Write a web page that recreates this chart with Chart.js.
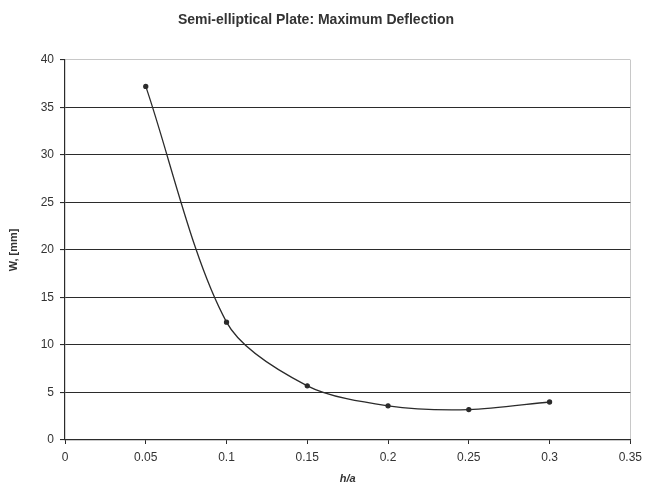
<!DOCTYPE html>
<html>
<head>
<meta charset="utf-8">
<script src="https://cdn.jsdelivr.net/npm/chart.js@4"></script>
<style>
  html, body { margin: 0; padding: 0; background: #fff; }
  #wrap { width: 648px; height: 488px; }
</style>
</head>
<body>
<div id="wrap"><canvas id="myChart"></canvas></div>
<script>
// h/a ratio vs max deflection W [mm]
const ratios = [0.05, 0.1, 0.15, 0.2, 0.25, 0.3];
const deflection = [37.2, 12.4, 5.7, 3.6, 3.2, 4.0];
const xTicks = [0, 0.05, 0.1, 0.15, 0.2, 0.25, 0.3, 0.35];
const yTicks = [0, 5, 10, 15, 20, 25, 30, 35, 40];

const ink = '#2b2b2b';
const font = 'Liberation Sans, Arial, sans-serif';

const ctx = document.getElementById('myChart');
let chart = new Chart(ctx, {
  type: 'scatter',
  data: {
    datasets: [{
      label: 'W',
      data: ratios.map((r, i) => ({ x: r, y: deflection[i] })),
      showLine: true,
      tension: 0.3,
      borderColor: ink,
      borderWidth: 1.3,
      pointRadius: 2,
      pointBackgroundColor: ink,
      pointBorderColor: ink
    }]
  },
  options: {
    responsive: true,
    maintainAspectRatio: false,
    animation: false,
    layout: { padding: { left: 0, right: 16, top: 0, bottom: 0 } },
    plugins: {
      legend: { display: false },
      tooltip: { enabled: false },
      title: {
        display: true,
        text: 'Semi-elliptical Plate: Maximum Deflection',
        color: '#333',
        font: { family: font, size: 14, weight: 'bold' },
        padding: { top: 12, bottom: 31 }
      }
    },
    scales: {
      x: {
        type: 'linear',
        min: 0,
        max: 0.35,
        afterBuildTicks: (s) => { s.ticks = xTicks.map(v => ({ value: v })); },
        afterFit: (s) => { s.height = 48; },
        grid: {
          drawOnChartArea: true,
          color: (c) => (c.tick && c.tick.value === 0.35) ? '#c8c8c8' : 'rgba(0,0,0,0)',
          tickColor: ink,
          tickLength: 4
        },
        border: { color: ink, width: 1.2 },
        ticks: {
          color: '#333',
          font: { family: font, size: 12 },
          padding: 6,
          maxRotation: 0,
          callback: (v) => String(v)
        },
        title: {
          display: true,
          text: 'h/a',
          color: '#333',
          font: { family: font, size: 11, weight: 'bold', style: 'italic' },
          padding: { top: 0, bottom: 2 }
        }
      },
      y: {
        min: 0,
        max: 40,
        afterBuildTicks: (s) => { s.ticks = yTicks.map(v => ({ value: v })); },
        afterFit: (s) => { s.width = 65; },
        grid: {
          color: (c) => (c.tick && c.tick.value === 40) ? '#c8c8c8' : ink,
          lineWidth: 1.1,
          tickColor: ink,
          tickLength: 5
        },
        border: { color: ink, width: 1.2 },
        ticks: {
          color: '#333',
          font: { family: font, size: 12 },
          padding: 6
        },
        title: {
          display: true,
          text: 'W, [mm]',
          color: '#333',
          font: { family: font, size: 11, weight: 'bold' },
          padding: { top: 7, bottom: 4 }
        }
      }
    }
  }
});
</script>
</body>
</html>
